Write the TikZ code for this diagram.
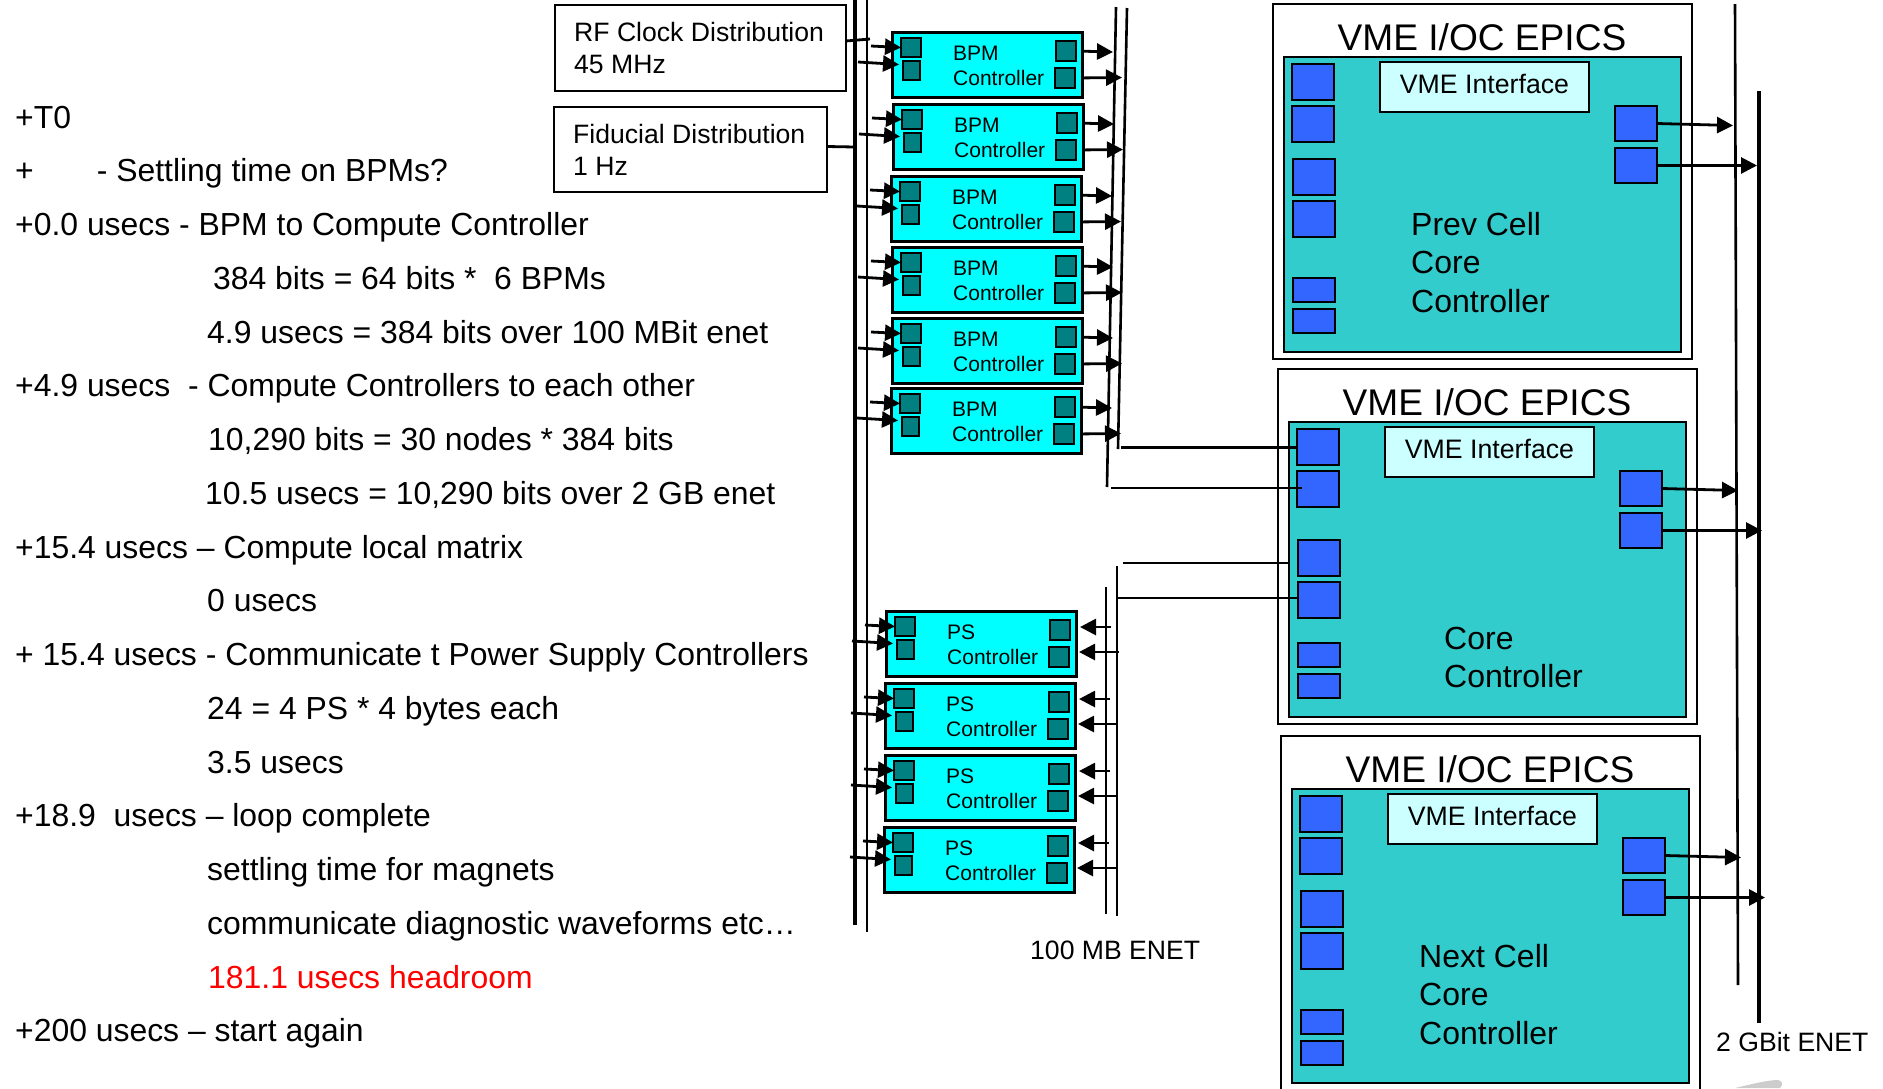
\documentclass[tikz,border=0pt]{standalone}
\usepackage{fontspec}
\setmainfont{Liberation Sans}
\usetikzlibrary{arrows.meta}
\definecolor{ctrlcyan}{HTML}{00FFFF}
\definecolor{portteal}{HTML}{008080}
\definecolor{vmeteal}{HTML}{33CCCC}
\definecolor{vmeblue}{HTML}{3366FF}
\definecolor{ifacefill}{HTML}{CCFFFF}
\newcommand{\fsz}[1]{\fontsize{#1}{#1}\selectfont}
\tikzset{
  boxbase/.style={draw=black,rectangle,anchor=north west,inner sep=0pt,outer sep=0pt},
  ctrlbox/.style={boxbase,fill=ctrlcyan,line width=2.8pt,minimum width=189.5pt,minimum height=65pt},
  ctrlport/.style={boxbase,fill=portteal,line width=2.8pt},
  ctrltext/.style={anchor=base west,inner sep=0pt,font=\fsz{21}},
  wire/.style={line width=2.8pt,draw=black},
  arrowwire/.style={wire,-{Triangle[length=16pt,width=16pt]}},
  busline/.style={line width=2.6pt,draw=black},
  thickbus/.style={line width=3.4pt,draw=black},
  infobox/.style={boxbase,fill=white,line width=2.8pt},
  infotext/.style={anchor=base west,inner sep=0pt,font=\fsz{26.6},align=left},
  vmeouter/.style={boxbase,fill=white,line width=2.6pt,minimum width=419pt},
  vmeinner/.style={boxbase,fill=vmeteal,line width=2.6pt,minimum width=397pt},
  vmeport/.style={boxbase,fill=vmeblue,line width=2.8pt,minimum width=42pt},
  vmeiface/.style={boxbase,fill=ifacefill,line width=2.6pt,minimum width=209pt,minimum height=50pt},
  vmeifacetext/.style={anchor=base,inner sep=0pt,font=\fsz{26.7}},
  vmetitle/.style={inner sep=0pt,font=\fsz{37.1}},
  vmelabel/.style={anchor=base west,inner sep=0pt,font=\fsz{32}},
  leftline/.style={anchor=base west,inner sep=0pt,font=\fsz{31.9}},
  buslabel/.style={anchor=base west,inner sep=0pt,font=\fsz{26.6}},
}
% controller: #1 name, #2 x, #3 y, #4 label
\newcommand{\ctrlparts}[4]{%
  \node[ctrlbox] (#1) at (#2+0.7,#3+0.5) {};
  \begin{scope}[shift={(#2,#3)}]
    \node[ctrlport,minimum width=20pt,minimum height=19pt] (#1-l1) at (9,6) {};
    \node[ctrlport,minimum width=17pt,minimum height=19pt] (#1-l2) at (11,29) {};
    \node[ctrlport,minimum width=20pt,minimum height=20pt] (#1-r1) at (164,9) {};
    \node[ctrlport,minimum width=20pt,minimum height=20pt] (#1-r2) at (163,36) {};
    \node[ctrltext] (#1-t1) at (61,28) {#4};
    \node[ctrltext] (#1-t2) at (61,53) {Controller};
    \coordinate (#1-a) at (-21,14);
    \coordinate (#1-b) at (-34,30);
    \coordinate (#1-c) at (221,20);
    \coordinate (#1-d) at (230,45.5);
    \coordinate (#1-e) at (225,16);
    \coordinate (#1-f) at (233,41);
  \end{scope}
  \draw[arrowwire] (#1-a) -- (#1-l1.west);
  \draw[arrowwire] (#1-b) -- ([xshift=-4pt,yshift=6pt]#1-l2.west);
}
\newcommand{\bpmctrl}[3]{%
  \ctrlparts{#1}{#2}{#3}{BPM}
  \draw[arrowwire,shorten <=7pt] (#1-r1.east) -- (#1-c);
  \draw[arrowwire,shorten <=8pt] (#1-r2.east) -- (#1-d);
}
\newcommand{\psctrl}[3]{%
  \ctrlparts{#1}{#2}{#3}{PS}
  \draw[arrowwire,shorten >=10pt] (#1-e) -- (#1-e -| #1-r1.east);
  \draw[arrowwire,shorten >=10pt] (#1-f) -- (#1-f -| #1-r2.east);
}
% vme: #1 name, #2 x, #3 y, #4 outer height, #5 inner height, #6 offset of middle pair, #7 port shift
\newcommand{\vmebox}[7]{%
  \node[vmeouter,minimum height=#4pt] (#1) at (#2,#3) {};
  \begin{scope}[shift={(#2,#3)}]
    \node[vmeinner,minimum height=#5pt] (#1-in) at (11,53) {};
    \node[vmetitle] (#1-title) at (209,33) {VME I/OC EPICS};
    \node[vmeiface] (#1-if) at (107,58) {};
    \node[vmeifacetext] (#1-iftext) at (#1-if.center) [yshift=-6pt] {VME Interface};
    \begin{scope}[yshift=#7pt]
    \node[vmeport,minimum height=36pt] (#1-a) at (19,61) {};
    \node[vmeport,minimum height=36pt] (#1-b) at (19,103) {};
    \node[vmeport,minimum height=36pt] (#1-c) at (20,{156+#6}) {};
    \node[vmeport,minimum height=36pt] (#1-d) at (20,{198+#6}) {};
    \node[vmeport,minimum height=24pt] (#1-e) at (20,275) {};
    \node[vmeport,minimum height=24pt] (#1-f) at (20,306) {};
    \node[vmeport,minimum height=35pt] (#1-r1) at (342,103) {};
    \node[vmeport,minimum height=35pt] (#1-r2) at (342,145) {};
    \coordinate (#1-t1) at (460,122.5);
    \coordinate (#1-t2) at (484,162.5);
    \end{scope}
  \end{scope}
  \draw[arrowwire] (#1-r1.east) -- (#1-t1);
  \draw[arrowwire] (#1-r2.east) -- (#1-t2);
}
\begin{document}
\begin{tikzpicture}[x=1pt,y=-1pt]
\useasboundingbox (0,0) rectangle (1883,1088);
\clip (0,0) rectangle (1883,1088);

% left-hand timing list
\node[leftline] (l01) at (15,128) {+T0};
\node[leftline] (l02) at (15,181) {+\hspace*{63pt}- Settling time on BPMs?};
\node[leftline] (l03) at (15,235) {+0.0 usecs - BPM to Compute Controller};
\node[leftline] (l04) at (213,289) {384 bits = 64 bits *~~6 BPMs};
\node[leftline] (l05) at (207,343) {4.9 usecs = 384 bits over 100 MBit enet};
\node[leftline] (l06) at (15,396) {+4.9 usecs~~- Compute Controllers to each other};
\node[leftline] (l07) at (208,450) {10,290 bits = 30 nodes * 384 bits};
\node[leftline] (l08) at (205,504) {10.5 usecs = 10,290 bits over 2 GB enet};
\node[leftline] (l09) at (15,558) {+15.4 usecs – Compute local matrix};
\node[leftline] (l10) at (207,611) {0 usecs};
\node[leftline] (l11) at (15,665) {+ 15.4 usecs - Communicate t Power Supply Controllers};
\node[leftline] (l12) at (207,719) {24 = 4 PS * 4 bytes each};
\node[leftline] (l13) at (207,773) {3.5 usecs};
\node[leftline] (l14) at (15,826) {+18.9~~usecs – loop complete};
\node[leftline] (l15) at (207,880) {settling time for magnets};
\node[leftline] (l16) at (207,934) {communicate diagnostic waveforms etc…};
\node[leftline,text=red] (l17) at (208,988) {181.1 usecs headroom};
\node[leftline] (l18) at (15,1041) {+200 usecs – start again};

% distribution boxes
\node[infobox,minimum width=291pt,minimum height=86pt] (rf) at (555,5) {};
\node[infotext] (rftext) at (574,41) {RF Clock Distribution};
\node[infotext] (rftextb) at (574,73) {45 MHz};
\node[infobox,minimum width=273pt,minimum height=85pt] (fid) at (554,107) {};
\node[infotext] (fidtext) at (573,143) {Fiducial Distribution};
\node[infotext] (fidtextb) at (573,175) {1 Hz};

% timing buses
\coordinate (ta) at (855,0);
\coordinate (tb) at (855,925);
\coordinate (tc) at (867,0);
\coordinate (td) at (867,932);
\draw[thickbus] (ta) -- (tb);
\draw[busline] (tc) -- (td);
\coordinate (rfend) at (870,39);
\coordinate (fidend) at (855,147);
\draw[wire] (rf.east) ++(0,-7) -- (rfend);
\draw[wire] (fid.east) ++(0,-3) -- (fidend);

% 100 MB ENET buses
\coordinate (ba) at (1116,7);
\coordinate (bb) at (1107,487);
\coordinate (bc) at (1127,8);
\coordinate (bd) at (1118,449);
\coordinate (pa) at (1106,587);
\coordinate (pb) at (1106,914);
\coordinate (pc) at (1117,566);
\coordinate (pd) at (1117,916);
\draw[busline] (ba) -- (bb);
\draw[busline] (bc) -- (bd);
\draw[busline] (pa) -- (pb);
\draw[busline] (pc) -- (pd);

% 2 GBit ENET buses
\coordinate (ga) at (1735,4);
\coordinate (gb) at (1738,985);
\coordinate (gc) at (1759,91);
\coordinate (gd) at (1759,1023);

% VME crates
\vmebox{prev}{1273}{4}{355}{295}{0}{1}
\vmebox{core}{1278}{369}{355}{295}{16}{1}
\vmebox{next}{1281}{736}{360}{294}{0}{1}
\draw[busline] (ga) -- (gb);
\draw[thickbus] (gc) -- (gd);

\node[vmelabel] (prev1) at (1411,235) {Prev Cell};
\node[vmelabel] (prev2) at (1411,273) {Core};
\node[vmelabel] (prev3) at (1411,312) {Controller};
\node[vmelabel] (core2) at (1444,649) {Core};
\node[vmelabel] (core3) at (1444,687) {Controller};
\node[vmelabel] (next1) at (1419,967) {Next Cell};
\node[vmelabel] (next2) at (1419,1005) {Core};
\node[vmelabel] (next3) at (1419,1044) {Controller};

% controllers
\bpmctrl{b1}{892}{32}
\bpmctrl{b2}{893}{104}
\bpmctrl{b3}{891}{176}
\bpmctrl{b4}{892}{247}
\bpmctrl{b5}{892}{318}
\bpmctrl{b6}{891}{388}
\psctrl{p1}{886}{611}
\psctrl{p2}{885}{683}
\psctrl{p3}{885}{755}
\psctrl{p4}{884}{827}

% links from the 100 MB buses to the core controller
\coordinate (w1) at (1121,447.5);
\coordinate (w2) at (1111,488);
\coordinate (w3) at (1123,563);
\coordinate (w4) at (1118,598);
\draw[wire] (w1) -- (w1 -| core-a.west);
\draw[wire,shorten >=-5pt] (w2) -- (w2 -| core-b.west);
\draw[wire] (w3) -- (w3 -| core-in.west);
\draw[wire] (w4) -- (w4 -| core-d.west);

% bus labels
\node[buslabel] (mb) at (1030,959) {100 MB ENET};
\node[buslabel] (gbit) at (1716,1051) {2 GBit ENET};

% grey mark at the lower edge
\fill[gray!40] (1735,1088) .. controls (1752,1084) and (1768,1080) .. (1778,1080) .. controls (1783,1081) and (1783,1085) .. (1780,1088) -- cycle;
\end{tikzpicture}
\end{document}
